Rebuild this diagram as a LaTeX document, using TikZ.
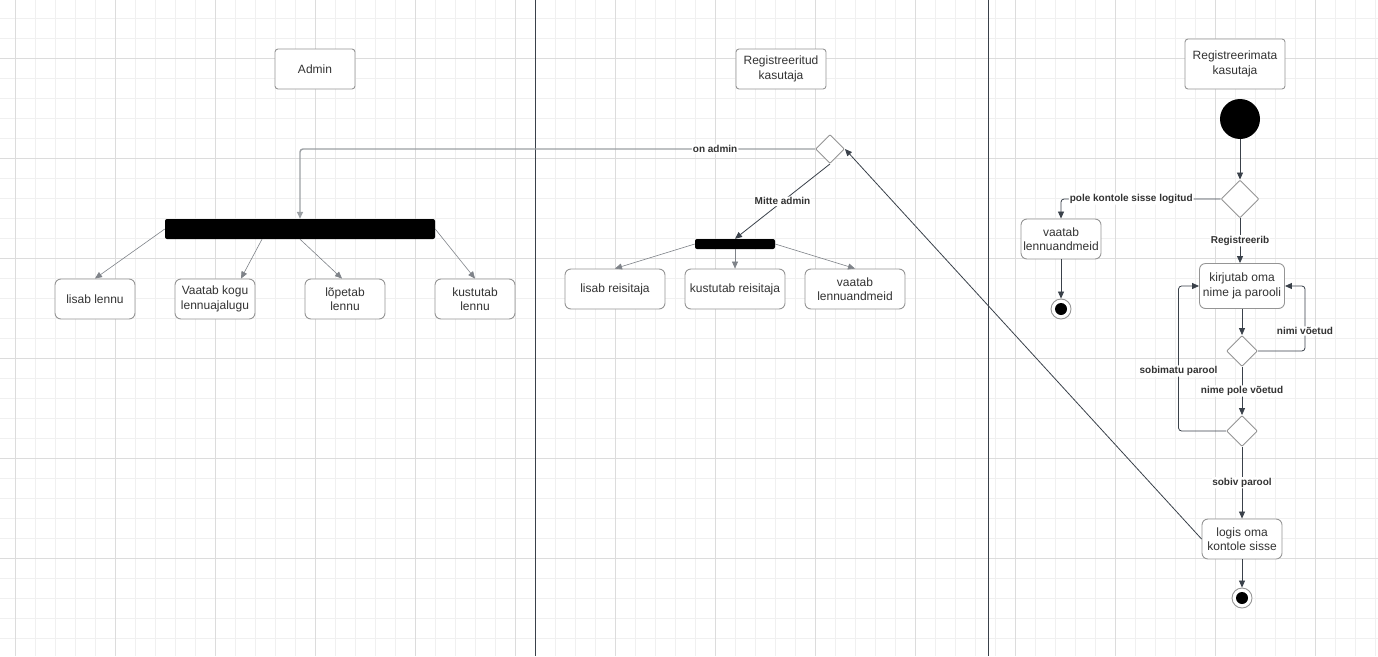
\documentclass[tikz,border=0pt]{standalone}
\usepackage{fontspec}
\setmainfont{Liberation Sans}
\usetikzlibrary{shapes.geometric,arrows.meta}

\definecolor{flowline}{HTML}{3A414A}
\definecolor{boxline}{HTML}{959595}
\definecolor{txtgray}{HTML}{333333}
\definecolor{gridminor}{HTML}{F0F0F0}
\definecolor{gridmajor}{HTML}{DCDCDC}

\tikzset{
  lanehead/.style={rectangle, rounded corners=3pt, draw=boxline, line width=0.9pt, fill=white, text=txtgray,
    align=center, minimum height=40pt, inner sep=2pt, font=\fontsize{12}{14.5}\selectfont},
  actbox/.style={lanehead, rounded corners=6pt, minimum width=80pt},
  forkbar/.style={rectangle, rounded corners=2pt, fill=black, inner sep=0pt},
  choice/.style={diamond, aspect=1, rounded corners=1pt, draw=boxline, line width=0.9pt, fill=white,
    inner sep=0pt, minimum size=30pt},
  startdot/.style={circle, fill=black, inner sep=0pt, minimum size=40pt},
  enddot/.style={circle, draw=boxline, line width=0.9pt, fill=white, inner sep=0pt, minimum size=20pt,
    path picture={\fill[black] (path picture bounding box.center) circle (6pt);}},
  flow/.style={draw=flowline, line width=0.8pt, rounded corners=3pt,
    -{Triangle[length=7pt,width=6pt]}},
  thinflow/.style={flow, draw=flowline!65, line width=0.6pt},
  adminflow/.style={flow, draw=flowline!50, line width=1.4pt},
  lbl/.style={fill=white, text=txtgray, inner sep=1pt, font=\bfseries\fontsize{10}{12}\selectfont},
  laneline/.style={draw=flowline, line width=0.8pt}
}

\begin{document}
\begin{tikzpicture}[x=1pt, y=-1pt]
\useasboundingbox[fill=white] (0,0) rectangle (1378,656);
\foreach \gx in {15,35,...,1375} \draw[gridminor, line width=0.7pt] (\gx,0) -- (\gx,656);
\foreach \gy in {18,38,...,650} \draw[gridminor, line width=0.7pt] (0,\gy) -- (1378,\gy);
\foreach \gx in {15,115,...,1315} \draw[gridmajor, line width=0.7pt] (\gx,0) -- (\gx,656);
\foreach \gy in {58,158,...,558} \draw[gridmajor, line width=0.7pt] (0,\gy) -- (1378,\gy);
\draw[laneline] (535,0) -- (535,656);
\draw[laneline] (988,0) -- (988,656);

\node[lanehead, minimum width=80pt] (admin) at (315,69) {Admin};
\node[forkbar, minimum width=270pt, minimum height=20pt] (adminbar) at (300,229) {};
\node[actbox] (lisablennu) at (95,299) {lisab lennu};
\node[actbox] (vaatabkogu) at (215,299) {Vaatab kogu\\lennuajalugu};
\node[actbox] (lopetab) at (345,299) {lõpetab\\lennu};
\node[actbox] (kustutablennu) at (475,299) {kustutab\\lennu};

\node[lanehead, minimum width=90pt] (regkasutaja) at (781,69) {Registreeritud\\kasutaja};
\node[choice, minimum size=29pt] (adminq) at (830,149) {};
\node[forkbar, minimum width=80pt, minimum height=10pt] (regbar) at (735,244) {};
\node[actbox, minimum width=100pt] (lisabreis) at (615,289) {lisab reisitaja};
\node[actbox, minimum width=100pt] (kustutabreis) at (735,289) {kustutab reisitaja};
\node[actbox, minimum width=100pt] (vaatabreg) at (855,289) {vaatab\\lennuandmeid};

\node[lanehead, minimum width=100pt, minimum height=50pt] (unregkasutaja) at (1235,64) {Registreerimata\\kasutaja};
\node[startdot] (start) at (1240,119) {};
\node[choice, minimum size=38pt] (loginq) at (1240,199) {};
\node[actbox] (vaatabunreg) at (1061,239) {vaatab\\lennuandmeid};
\node[enddot] (endleft) at (1061,309) {};
\node[actbox, minimum width=85pt, minimum height=45pt] (kirjutab) at (1242,286) {kirjutab oma\\nime ja parooli};
\node[choice, minimum size=31pt] (nimiq) at (1242,351) {};
\node[choice, minimum size=31pt] (paroolq) at (1242,431) {};
\node[actbox] (logis) at (1242,539) {logis oma\\kontole sisse};
\node[enddot] (endright) at (1242,598) {};

\draw[adminflow] (adminq.west) -| node[lbl, pos=0.097] {on admin} (adminbar.north);
\draw[flow] (adminq.south) -- node[lbl] {Mitte admin} (regbar.north);
\draw[thinflow] (adminbar.west) -- (lisablennu.north);
\draw[thinflow] ([xshift=-38pt]adminbar.south) -- ([xshift=26pt]vaatabkogu.north);
\draw[thinflow] (adminbar.south) -- ([xshift=-3pt]lopetab.north);
\draw[thinflow] (adminbar.east) -- (kustutablennu.north);
\draw[thinflow] (regbar.west) -- (lisabreis.north);
\draw[thinflow] (regbar.south) -- (kustutabreis.north);
\draw[thinflow] (regbar.east) -- (vaatabreg.north);

\draw[flow] (start) -- (loginq.north);
\draw[flow] (loginq.west) -| node[lbl, pos=0.28] {pole kontole sisse logitud} (vaatabunreg.north);
\draw[flow] (vaatabunreg) -- (endleft);
\draw[flow] (loginq.south) -- node[lbl] {Registreerib} (loginq.south |- kirjutab.north);
\draw[flow] (kirjutab) -- (nimiq.north);
\draw[flow] (nimiq.east) -| node[lbl, pos=0.654] {nimi võetud} ([xshift=20pt]kirjutab.east) -- (kirjutab.east);
\draw[flow] (nimiq.south) -- node[lbl] {nime pole võetud} (paroolq.north);
\draw[flow] (paroolq.west) -| node[lbl, pos=0.707] {sobimatu parool} ([xshift=-20.5pt]kirjutab.west) -- (kirjutab.west);
\draw[flow] (paroolq.south) -- node[lbl] {sobiv parool} (logis.north);
\draw[flow] (logis) -- (endright);
\draw[flow, rounded corners=0pt] (logis.west) -- (adminq.east);
\end{tikzpicture}
\end{document}
